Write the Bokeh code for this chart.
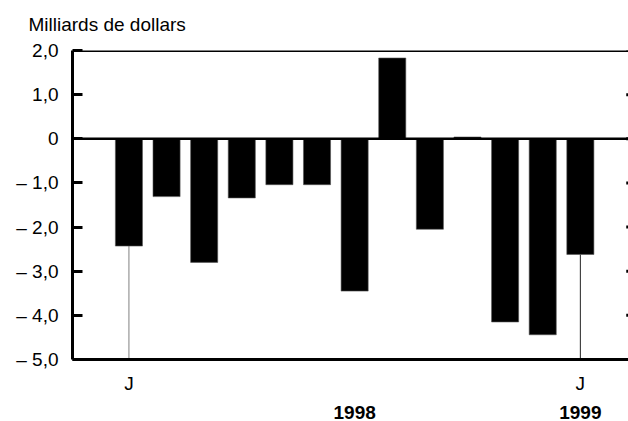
from bokeh.plotting import figure
from bokeh.models import LinearAxis, FixedTicker, Span, Range1d, ColumnDataSource
from bokeh.embed import file_html
from bokeh.resources import INLINE

# ---- data ----
months = ["J", "F", "M", "A", "M", "J", "J", "A", "S", "O", "N", "D", "J"]
values = [-2.43, -1.31, -2.80, -1.34, -1.04, -1.04, -3.45, 1.83, -2.05, 0.04, -4.15, -4.44, -2.62]
y_ticks = [-5, -4, -3, -2, -1, 0, 1, 2]
y_labels = ["– 5,0", "– 4,0", "– 3,0", "– 2,0", "– 1,0", "0", "1,0", "2,0"]
month_tick_pos = [0, 12]
month_tick_labels = ["J", "J"]
year_pos = [6, 12]
year_labels = ["1998", "1999"]
title_text = "Milliards de dollars"

FONT = "Liberation Sans"
FS = "19px"

idx = list(range(len(values)))
ymin, ymax = min(y_ticks), max(y_ticks)
x_start, x_end = -1.5, 13.28

W, H = 628, 421
BL, BT, BB = 72, 50, 62
p = figure(width=W, height=H, output_backend="svg", toolbar_location=None,
           x_range=Range1d(x_start, x_end), y_range=Range1d(ymin, ymax),
           x_axis_type=None, y_axis_type=None,
           min_border_left=BL, min_border_right=0, min_border_top=BT, min_border_bottom=BB)
p.outline_line_color = None
p.grid.visible = False
p.background_fill_color = "white"
p.border_fill_color = "white"

p.title.text = title_text
p.title.text_font = FONT
p.title.text_font_size = FS
p.title.text_font_style = "normal"
p.title.text_color = "black"
p.title.offset = -44
p.title.vertical_align = "top"
p.title.standoff = 27

# left axis
yl = LinearAxis(ticker=FixedTicker(ticks=y_ticks),
                major_label_overrides={t: l for t, l in zip(y_ticks, y_labels)})
yl.axis_line_width = 3
yl.major_tick_in = 10
yl.major_tick_out = 0
yl.major_tick_line_width = 3
yl.minor_tick_line_color = None
yl.major_label_text_font = FONT
yl.major_label_text_font_size = FS
yl.major_label_text_color = "black"
yl.major_label_standoff = 14
p.add_layout(yl, "left")

# bottom axis: month letters
xm = LinearAxis(ticker=FixedTicker(ticks=month_tick_pos),
                major_label_overrides={t: l for t, l in zip(month_tick_pos, month_tick_labels)})
xm.axis_line_width = 3
xm.major_tick_in = 0
xm.major_tick_out = 0
xm.minor_tick_line_color = None
xm.major_label_text_font = FONT
xm.major_label_text_font_size = FS
xm.major_label_text_color = "black"
xm.major_label_standoff = 13
p.add_layout(xm, "below")

# second bottom axis: years
xy = LinearAxis(ticker=FixedTicker(ticks=year_pos),
                major_label_overrides={t: l for t, l in zip(year_pos, year_labels)})
xy.axis_line_color = None
xy.major_tick_in = 0
xy.major_tick_out = 0
xy.minor_tick_line_color = None
xy.major_label_text_font = FONT
xy.major_label_text_font_size = FS
xy.major_label_text_font_style = "bold"
xy.major_label_text_color = "black"
xy.major_label_standoff = 9
p.add_layout(xy, "below")

# reference lines
p.add_layout(Span(location=ymax, dimension="width", line_color="black", line_width=3))
p.add_layout(Span(location=0, dimension="width", line_color="black", line_width=2.5))

# small inward ticks at the (cut-off) right edge
rt = ColumnDataSource(dict(x0=[x_end - 0.06] * len(y_ticks), x1=[x_end] * len(y_ticks), y=y_ticks))
p.segment(x0="x0", y0="y", x1="x1", y1="y", line_color="black", line_width=3, source=rt)

# connector lines from first / last bar to the axis
seg = ColumnDataSource(dict(x=[idx[0], idx[-1]], y0=[values[0], values[-1]],
                            y1=[ymin, ymin], c=["#808080", "#222222"]))
p.segment(x0="x", y0="y0", x1="x", y1="y1", line_color="c", line_width=1, source=seg)

src = ColumnDataSource(dict(x=idx, top=values, m=months))
p.vbar(x="x", top="top", bottom=0, width=0.72, source=src,
       fill_color="black", line_color="#555555", line_width=0.6)

open("out.html", "w").write(file_html(p, INLINE))
